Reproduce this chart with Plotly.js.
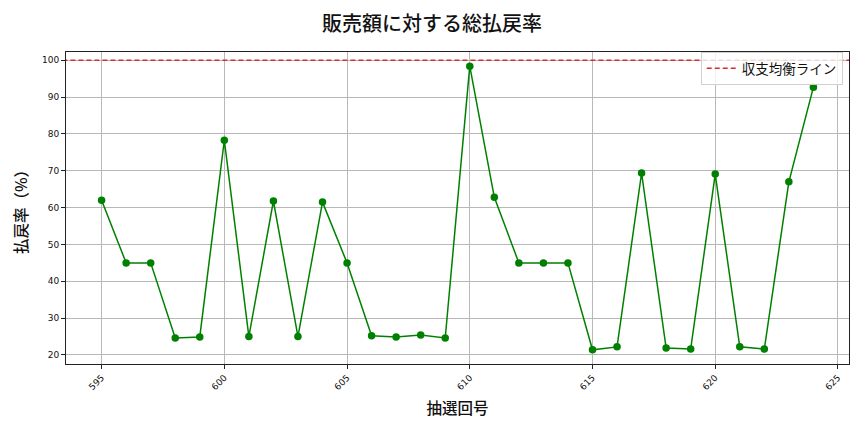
<!DOCTYPE html>
<html>
<head>
<meta charset="utf-8">
<script src="https://cdn.plot.ly/plotly-3.0.1.min.js"></script>
<style>
  html, body { margin: 0; padding: 0; background: white; }
  #chart { width: 864px; height: 432px; }
</style>
</head>
<body>
<div id="chart"></div>
<script>
// draw numbers (抽選回号) and payout ratio (%)
const drawNumbers = [595, 596, 597, 598, 599, 600, 601, 602, 603, 604,
    605, 606, 607, 608, 609, 610, 611, 612, 613, 614,
    615, 616, 617, 618, 619, 620, 621, 622, 623, 624];
const payoutRates = [62.0, 45.0, 45.0, 24.6, 24.9, 78.3, 25.0, 61.8, 25.0, 61.5,
    45.0, 25.2, 24.9, 25.4, 24.6, 98.4, 62.8, 45.0, 45.0, 45.0,
    21.4, 22.2, 69.4, 21.9, 21.6, 69.1, 22.2, 21.6, 67.0, 92.7];
const breakEven = 100;
const xTicks = [595, 600, 605, 610, 615, 620, 625];
const yTicks = [20, 30, 40, 50, 60, 70, 80, 90, 100];

const JP = '"Noto Sans CJK JP", "DejaVu Sans", sans-serif';
const TICK = '"DejaVu Sans", sans-serif';

const xMin = Math.min(...drawNumbers), xMax = Math.max(...drawNumbers);
const yMin = Math.min(...payoutRates), yMax = Math.max(...payoutRates);
const xPad = (xMax - xMin) * 0.05, yPad = (yMax - yMin) * 0.05;

const traces = [
    {
        x: drawNumbers, y: payoutRates,
        type: 'scatter', mode: 'lines+markers',
        line: { color: 'green', width: 1.5 },
        marker: { color: 'green', size: 7.5 },
        showlegend: false, hoverinfo: 'x+y'
    },
    {
        x: [xMin - xPad * 2, xMax + xPad * 2], y: [breakEven, breakEven],
        type: 'scatter', mode: 'lines',
        name: '収支均衡ライン',
        line: { color: '#e02a2a', width: 1.5, dash: '5px,3px' }
    }
];

const axisBase = {
    showline: true, linecolor: '#222', linewidth: 1, mirror: true,
    ticks: 'outside', ticklen: 4, tickcolor: '#222',
    gridcolor: '#b8b8b8', gridwidth: 0.8, zeroline: false,
    tickfont: { family: TICK, size: 9, color: '#111' }
};

const layout = {
    width: 864, height: 432,
    margin: { l: 66, r: 15, t: 52, b: 68 },
    paper_bgcolor: 'white', plot_bgcolor: 'white',
    title: {
        text: '販売額に対する総払戻率',
        font: { family: JP, size: 20, color: '#111', weight: 500 },
        x: 0.5, xanchor: 'center', y: 0.945, yanchor: 'middle'
    },
    xaxis: Object.assign({}, axisBase, {
        range: [xMin - xPad, xMax + xPad],
        tickvals: xTicks, tickangle: -45,
        title: { text: '抽選回号', font: { family: JP, size: 15.5, color: '#111', weight: 500 }, standoff: 12 }
    }),
    yaxis: Object.assign({}, axisBase, {
        range: [yMin - yPad, yMax + yPad],
        tickvals: yTicks,
        title: { text: '払戻率（%）', font: { family: JP, size: 15.5, color: '#111', weight: 500 }, standoff: 10 }
    }),
    showlegend: true,
    legend: {
        x: 0.992, xanchor: 'right', y: 1.0, yanchor: 'top',
        bgcolor: 'rgba(255,255,255,0.8)', bordercolor: '#d0d0d0', borderwidth: 1,
        font: { family: JP, size: 13.5, color: '#111' },
        itemwidth: 30
    }
};

Plotly.newPlot('chart', traces, layout, { displayModeBar: false, responsive: false });
</script>
</body>
</html>
